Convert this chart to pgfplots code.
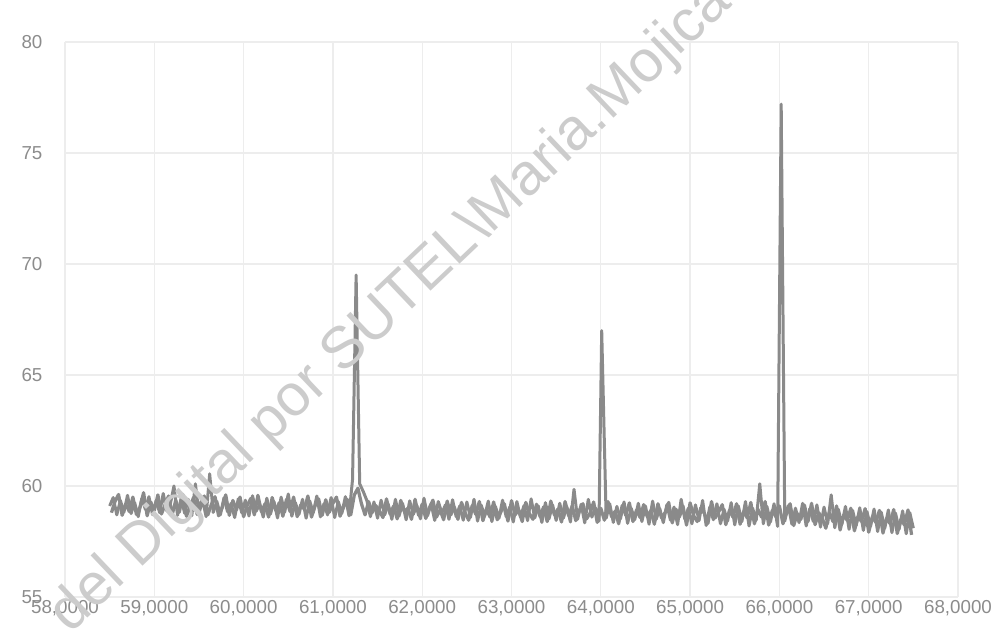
\documentclass[border=0pt]{standalone}
\usepackage{pgfplots}
\pgfplotsset{compat=1.18}
\usepackage{fontspec}
\setmainfont{Liberation Sans}

% samples (with the three carriers)
\pgfplotstableread{
x y
58.50 59.10
58.54 59.48
58.58 58.70
58.62 59.35
58.66 58.82
58.70 59.58
58.74 58.76
58.78 59.25
58.82 58.62
58.86 59.44
58.90 58.95
58.94 59.52
58.98 58.71
59.02 59.34
59.06 58.80
59.10 59.66
59.14 58.88
59.18 59.20
59.22 60.00
59.26 58.68
59.30 59.45
59.34 58.77
59.38 59.40
59.42 58.66
59.46 60.10
59.50 58.75
59.54 59.38
59.58 58.62
59.62 60.55
59.66 58.81
59.70 59.31
59.74 58.70
59.78 59.47
59.82 58.84
59.86 59.22
59.90 58.58
59.94 59.42
59.98 58.79
60.02 59.36
60.06 58.65
60.10 59.56
60.14 58.86
60.18 59.18
60.22 58.60
60.26 59.45
60.30 58.73
60.34 59.30
60.38 58.56
60.42 59.50
60.46 58.82
60.50 59.64
60.54 58.64
60.58 59.25
60.62 58.72
60.66 59.40
60.70 58.55
60.74 59.33
60.78 58.80
60.82 59.55
60.86 58.61
60.90 59.20
60.94 58.70
60.98 59.48
61.02 58.58
61.06 59.30
61.10 58.77
61.14 59.52
61.18 58.66
61.22 60.30
61.26 69.50
61.30 60.10
61.34 59.75
61.38 59.35
61.42 58.62
61.46 59.28
61.50 58.55
61.54 59.36
61.58 58.70
61.62 59.18
61.66 58.50
61.70 59.40
61.74 58.64
61.78 59.22
61.82 58.48
61.86 59.33
61.90 58.72
61.94 59.12
61.98 58.52
62.02 59.45
62.06 58.66
62.10 59.20
62.14 58.45
62.18 59.30
62.22 58.78
62.26 59.15
62.30 58.50
62.34 59.38
62.38 58.62
62.42 59.10
62.46 58.46
62.50 59.28
62.54 58.58
62.58 59.40
62.62 58.42
62.66 59.14
62.70 58.65
62.74 59.32
62.78 58.40
62.82 59.08
62.86 58.55
62.90 59.36
62.94 58.62
62.98 59.05
63.02 58.38
63.06 59.30
63.10 58.60
63.14 59.12
63.18 58.44
63.22 59.42
63.26 58.56
63.30 59.10
63.34 58.36
63.38 59.25
63.42 58.52
63.46 59.15
63.50 58.45
63.54 59.22
63.58 58.55
63.62 59.05
63.66 58.38
63.70 59.85
63.74 58.50
63.78 59.18
63.82 58.34
63.86 59.40
63.90 58.60
63.94 59.02
63.98 58.42
64.01 67.00
64.06 58.55
64.10 59.20
64.14 58.36
64.18 59.08
64.22 58.52
64.26 59.28
64.30 58.32
64.34 59.00
64.38 58.48
64.42 59.22
64.46 58.40
64.50 59.10
64.54 58.28
64.58 59.32
64.62 58.50
64.66 58.98
64.70 58.35
64.74 59.16
64.78 58.46
64.82 59.05
64.86 58.26
64.90 59.40
64.94 58.52
64.98 59.00
65.02 58.30
65.06 59.15
65.10 58.44
65.14 59.35
65.18 58.22
65.22 59.05
65.26 58.48
65.30 59.20
65.34 58.30
65.38 58.95
65.42 58.42
65.46 59.25
65.50 58.25
65.54 59.10
65.58 58.40
65.62 59.30
65.66 58.20
65.70 59.00
65.74 58.45
65.78 60.10
65.82 58.30
65.86 59.08
65.90 58.38
65.94 59.20
65.98 58.18
66.02 77.20
66.06 58.42
66.10 59.12
66.14 58.28
66.18 59.00
66.22 58.35
66.26 59.22
66.30 58.20
66.34 58.98
66.38 58.40
66.42 59.15
66.46 58.15
66.50 59.05
66.54 58.30
66.58 59.60
66.62 58.12
66.66 58.95
66.70 58.28
66.74 59.08
66.78 58.05
66.82 58.90
66.86 58.22
66.90 59.02
66.94 58.00
66.98 58.85
67.02 58.18
67.06 58.96
67.10 57.95
67.14 58.82
67.18 58.10
67.22 58.92
67.26 57.90
67.30 58.78
67.34 58.05
67.38 58.88
67.42 57.85
67.46 58.80
67.50 58.10
}\signal

% in-between samples, so the noise band fills in
\pgfplotstableread{
x y
58.52 58.80
58.56 59.30
58.60 59.62
58.64 58.68
58.68 59.20
58.72 58.85
58.76 59.50
58.80 58.72
58.84 59.05
58.88 59.70
58.92 58.66
58.96 59.28
59.00 58.90
59.04 59.60
59.08 58.74
59.12 59.15
59.16 59.55
59.20 58.70
59.24 59.36
59.28 58.82
59.32 59.62
59.36 58.64
59.40 59.10
59.44 59.48
59.48 58.72
59.52 59.26
59.56 59.55
59.60 58.70
59.64 59.18
59.68 59.52
59.72 58.66
59.76 59.02
59.80 59.60
59.84 58.68
59.88 59.35
59.92 58.92
59.96 59.50
60.00 58.62
60.04 59.12
60.08 59.44
60.12 58.70
60.16 59.58
60.20 58.84
60.24 59.20
60.28 58.60
60.32 59.48
60.36 58.90
60.40 59.25
60.44 58.64
60.48 59.40
60.52 58.85
60.56 59.50
60.60 58.62
60.64 59.15
60.68 58.96
60.72 59.55
60.76 58.60
60.80 59.10
60.84 59.42
60.88 58.68
60.92 59.38
60.96 58.82
61.00 59.22
61.04 59.50
61.08 58.64
61.12 59.05
61.16 59.40
61.20 58.70
61.24 59.60
61.28 59.90
61.32 59.20
61.36 58.70
61.40 59.30
61.44 58.80
61.48 59.12
61.52 58.90
61.56 58.58
61.60 59.42
61.64 58.74
61.68 59.10
61.72 58.52
61.76 59.35
61.80 58.85
61.84 59.00
61.88 58.50
61.92 59.40
61.96 58.68
62.00 59.18
62.04 58.54
62.08 59.02
62.12 59.36
62.16 58.60
62.20 58.92
62.24 58.48
62.28 59.32
62.32 58.70
62.36 59.05
62.40 58.50
62.44 59.26
62.48 58.80
62.52 58.46
62.56 59.12
62.60 58.72
62.64 59.30
62.68 58.44
62.72 58.96
62.76 58.60
62.80 59.28
62.84 58.48
62.88 58.82
62.92 59.20
62.96 58.42
63.00 59.34
63.04 58.70
63.08 58.92
63.12 58.40
63.16 59.26
63.20 58.76
63.24 58.50
63.28 59.18
63.32 58.62
63.36 59.06
63.40 58.40
63.44 59.32
63.48 58.70
63.52 58.96
63.56 58.38
63.60 59.30
63.64 58.66
63.68 59.10
63.72 58.44
63.76 58.90
63.80 59.20
63.84 58.52
63.88 58.78
63.92 59.28
63.96 58.36
64.00 59.00
64.04 58.46
64.08 59.30
64.12 58.62
64.16 58.86
64.20 58.30
64.24 59.12
64.28 58.68
64.32 59.24
64.36 58.40
64.40 58.92
64.44 58.58
64.48 59.16
64.52 58.62
64.56 58.90
64.60 58.28
64.64 59.20
64.68 58.56
64.72 58.80
64.76 59.26
64.80 58.34
64.84 58.96
64.88 58.60
64.92 59.10
64.96 58.24
65.00 59.24
65.04 58.66
65.08 58.40
65.12 59.02
65.16 58.76
65.20 58.32
65.24 59.30
65.28 58.56
65.32 58.84
65.36 59.16
65.40 58.26
65.44 58.90
65.48 58.60
65.52 59.20
65.56 58.28
65.60 58.86
65.64 58.56
65.68 59.26
65.72 58.30
65.76 58.95
65.80 58.60
65.84 59.30
65.88 58.24
65.92 58.90
65.96 58.62
66.00 59.10
66.04 58.30
66.08 58.84
66.12 59.20
66.16 58.22
66.20 58.76
66.24 58.50
66.28 59.14
66.32 58.40
66.36 59.22
66.40 58.26
66.44 58.80
66.48 58.55
66.52 58.10
66.56 58.82
66.60 58.40
66.64 59.10
66.68 58.02
66.72 58.70
66.76 58.45
66.80 59.00
66.84 57.98
66.88 58.62
66.92 58.40
66.96 58.98
67.00 57.92
67.04 58.60
67.08 58.36
67.12 58.90
67.16 57.88
67.20 58.55
67.24 58.30
67.28 58.94
67.32 57.86
67.36 58.50
67.40 58.25
67.44 58.92
67.48 57.80
}\signalmid

\begin{document}
\begin{tikzpicture}
\begin{axis}[
  scale only axis,
  width=357.2pt, height=222pt,
  xmin=58, xmax=68, ymin=55, ymax=80,
  xtick={58,59,60,61,62,63,64,65,66,67,68},
  xticklabels={{58,0000},{59,0000},{60,0000},{61,0000},{62,0000},{63,0000},{64,0000},{65,0000},{66,0000},{67,0000},{68,0000}},
  ytick={55,60,65,70,75,80},
  yticklabels={55,60,65,70,75,80},
  grid=major,
  major grid style={draw=black!7, line width=0.5pt},
  axis line style={draw=none},
  tick style={draw=none},
  ticklabel style={font=\fontsize{7.5}{9}\selectfont, text=black!45},
  xticklabel style={inner sep=1pt},
  yticklabel style={xshift=-5.5pt},
  clip=false,
]
\addplot[color=black!46, line width=1.3pt, line join=round] table {\signalmid};
\addplot[color=black!46, line width=1.2pt, line join=round] table {\signal};
\end{axis}
\begin{scope}
  \clip (-26pt,-14pt) rectangle (372.8pt,238.8pt);
  \node[anchor=base west, rotate=43.5, inner sep=0pt, text=black!20,
        font=\fontsize{23.5}{28}\selectfont] at (2pt,-15pt)
        {del Digital por SUTEL\textbackslash Maria.Mojica};
\end{scope}
\pgfresetboundingbox
\useasboundingbox (-26pt,-14pt) rectangle (372.8pt,238.8pt);
\end{tikzpicture}
\end{document}
